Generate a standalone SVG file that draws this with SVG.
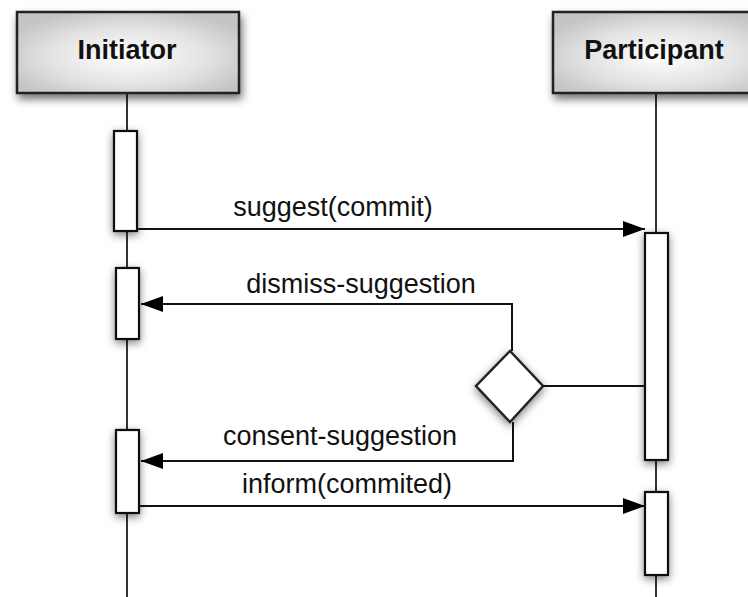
<svg xmlns="http://www.w3.org/2000/svg" width="748" height="597" viewBox="0 0 748 597">
<defs>
<radialGradient id="boxg" cx="50%" cy="55%" r="60%">
<stop offset="0" stop-color="#ffffff"/>
<stop offset="0.6" stop-color="#e2e2e2"/>
<stop offset="1" stop-color="#c4c4c4"/>
</radialGradient>
<filter id="sh" x="-40%" y="-40%" width="180%" height="180%">
<feDropShadow dx="2" dy="5" stdDeviation="4" flood-color="#000" flood-opacity="0.55"/>
</filter>
<filter id="sh2" x="-60%" y="-20%" width="220%" height="140%">
<feDropShadow dx="0" dy="3" stdDeviation="4" flood-color="#000" flood-opacity="0.5"/>
</filter>
<marker id="ah" viewBox="0 0 22 16" refX="22" refY="8" markerWidth="22" markerHeight="16" markerUnits="userSpaceOnUse" orient="auto">
<path d="M0,0 L22,8 L0,16 Z" fill="#000"/>
</marker>
</defs>
<style>
.box{fill:url(#boxg);stroke:#222;stroke-width:2.5;filter:url(#sh)}
.title{font-family:"Liberation Sans",Arial,sans-serif;font-weight:bold;font-size:27px;fill:#111;text-anchor:middle}
.lbl{font-family:"Liberation Sans",Arial,sans-serif;font-size:27px;fill:#111;text-anchor:middle}
.life{stroke:#333;stroke-width:2;fill:none}
.bar{fill:#fff;stroke:#111;stroke-width:2.2;filter:url(#sh2)}
.msg{stroke:#111;stroke-width:2;fill:none}
</style>
<rect width="748" height="597" fill="#fff"/>
<g id="lifelines">
<line class="life" x1="127" y1="93" x2="127" y2="597"/>
<line class="life" x1="656" y1="93" x2="656" y2="597"/>
</g>
<g id="initiator">
<rect class="box" x="17" y="12" width="222" height="81"/>
<text class="title" x="127" y="59">Initiator</text>
</g>
<g id="participant">
<rect class="box" x="553" y="12" width="222" height="81"/>
<text class="title" x="654" y="59">Participant</text>
</g>
<g id="bars">
<rect class="bar" x="114" y="131" width="23" height="100"/>
<rect class="bar" x="116" y="268" width="23" height="71"/>
<rect class="bar" x="116" y="430" width="23" height="83"/>
<rect class="bar" x="645" y="233" width="23" height="227"/>
<rect class="bar" x="645" y="492" width="23" height="83"/>
</g>
<g id="decision">
<path d="M510,351 L543,386 L510,422 L476,386 Z" fill="#fff" stroke="#222" stroke-width="2.5" filter="url(#sh2)"/>
</g>
<g id="connectors">
<line class="msg" x1="137" y1="229" x2="645" y2="229" marker-end="url(#ah)"/>
<polyline class="msg" points="512,351 512,304 141,304" marker-end="url(#ah)"/>
<line class="msg" x1="543" y1="386" x2="645" y2="386"/>
<polyline class="msg" points="513,422 513,461 141,461" marker-end="url(#ah)"/>
<line class="msg" x1="139" y1="506" x2="645" y2="506" marker-end="url(#ah)"/>
</g>
<g id="labels">
<text class="lbl" x="333" y="216">suggest(commit)</text>
<text class="lbl" x="361" y="293">dismiss-suggestion</text>
<text class="lbl" x="340" y="445">consent-suggestion</text>
<text class="lbl" x="347" y="493">inform(commited)</text>
</g>
</svg>
